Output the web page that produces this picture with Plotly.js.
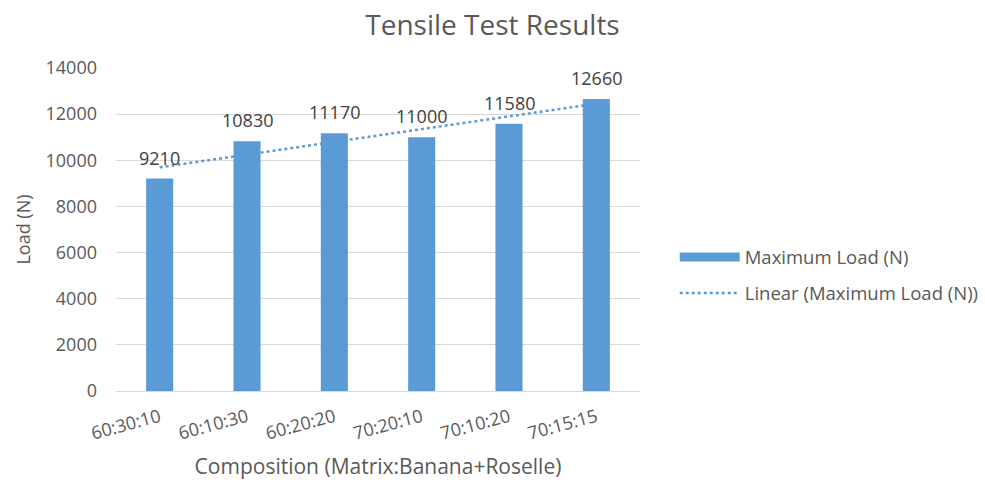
<!DOCTYPE html>
<html>
<head>
<meta charset="utf-8">
<script src="https://cdn.plot.ly/plotly-3.0.1.min.js"></script>
<style>html,body{margin:0;padding:0;background:#fff;}#chart{width:985px;height:480px;}</style>
</head>
<body>
<div id="chart"></div>
<script>
const categories = ["60:30:10", "60:10:30", "60:20:20", "70:20:10", "70:10:20", "70:15:15"];
const maxLoad = [9210, 10830, 11170, 11000, 11580, 12660];
const yTicks = [0, 2000, 4000, 6000, 8000, 10000, 12000, 14000];

// Linear trendline (least squares fit of the series, as the spreadsheet trendline does)
const n = maxLoad.length;
const xs = maxLoad.map((_, i) => i + 1);
const mx = xs.reduce((a, b) => a + b, 0) / n;
const my = maxLoad.reduce((a, b) => a + b, 0) / n;
let sxy = 0, sxx = 0;
for (let i = 0; i < n; i++) { sxy += (xs[i] - mx) * (maxLoad[i] - my); sxx += (xs[i] - mx) ** 2; }
const slope = sxy / sxx, intercept = my - slope * mx;
const trend = xs.map(x => intercept + slope * x);

const font = "Open Sans, Liberation Sans, sans-serif";
const blue = "#5B9BD5";
const grey = "#595959";

const data = [
  {
    type: "bar", x: categories, y: maxLoad, name: "Maximum Load (N)",
    marker: {color: blue}, width: 0.31, showlegend: false
  },
  {
    // legend entry for the bar series (wide block like the original)
    type: "scatter", mode: "lines", x: [null], y: [null], name: "Maximum Load (N)",
    line: {color: blue, width: 9}, legendgroup: "a"
  },
  {
    type: "scatter", mode: "lines", x: categories, y: trend,
    name: "Linear (Maximum Load (N))", legendgroup: "b",
    line: {color: blue, width: 2.5, dash: "dot"}
  }
];

const annotations = categories.map((c, i) => ({
  x: c, y: maxLoad[i], xref: "x", yref: "y", text: String(maxLoad[i]),
  showarrow: false, yanchor: "middle", yshift: 21,
  font: {family: font, size: 18, color: "#404040"}
}));

const layout = {
  width: 985, height: 480,
  margin: {l: 116, r: 345, t: 68, b: 89},
  paper_bgcolor: "#fff", plot_bgcolor: "#fff",
  font: {family: font, color: grey},
  title: {text: "Tensile Test Results", x: 0.5, xref: "container", xanchor: "center", y: 0.948, yanchor: "middle",
          font: {family: font, size: 28, color: grey}},
  xaxis: {
    type: "category", tickangle: -15, tickfont: {family: font, size: 18, color: grey},
    showline: true, linecolor: "#d9d9d9", linewidth: 1, ticks: "", ticklabelstandoff: 8,
    showgrid: false, automargin: false,
    title: {text: "Composition (Matrix:Banana+Roselle)", font: {family: font, size: 21, color: grey}, standoff: 17}
  },
  yaxis: {
    range: [0, 14000], tickvals: yTicks, ticktext: yTicks.map(String),
    tickfont: {family: font, size: 18, color: grey}, gridcolor: "#d9d9d9", gridwidth: 1,
    zeroline: false, showline: false, ticks: "", ticklabelstandoff: 18,
    automargin: false,
    title: {text: "Load (N)", font: {family: font, size: 18, color: grey}, standoff: 10}
  },
  annotations: annotations,
  showlegend: true,
  legend: {xref: "container", yref: "container", x: 0.685, xanchor: "left", y: 0.426, yanchor: "middle",
           traceorder: "grouped",
           font: {family: font, size: 18.5, color: grey}, itemwidth: 60,
           tracegroupgap: 9, bgcolor: "rgba(0,0,0,0)"},
  bargap: 0.7
};

Plotly.newPlot("chart", data, layout, {displayModeBar: false, staticPlot: true});
</script>
</body>
</html>
